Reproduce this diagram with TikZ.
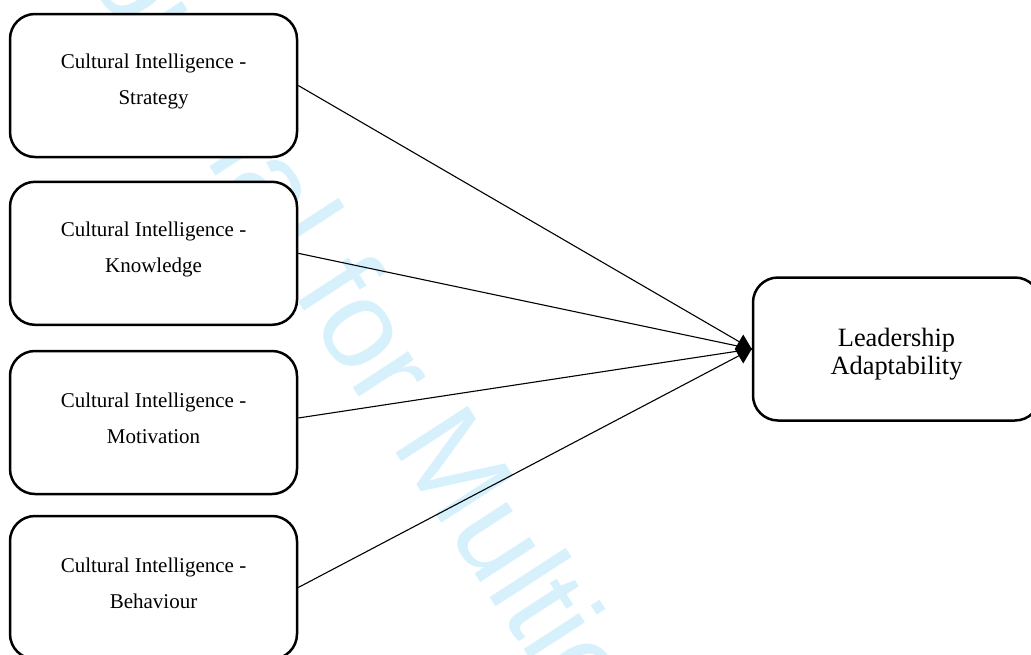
\documentclass[tikz,border=0pt]{standalone}
\usepackage{fontspec}
\setmainfont{Liberation Serif}
\newfontfamily\wmfont{Liberation Sans}
\definecolor{wmcol}{RGB}{214,240,252}
\tikzset{
  cbox/.style={draw, line width=2.5pt, rounded corners=25pt, fill=white,
    minimum width=287pt, minimum height=143pt, inner sep=0pt},
  clbl/.style={align=center, inner sep=0pt, font=\fontsize{21}{36.3}\selectfont},
  rlbl/.style={align=center, inner sep=0pt, font=\fontsize{26.4}{28}\selectfont},
  conn/.style={line width=1.1pt},
  wmark/.style={text=wmcol, rotate=-57, anchor=base west, inner sep=0pt,
    font=\wmfont\fontsize{125}{125}\selectfont},
}
\begin{document}
\begin{tikzpicture}[x=1pt,y=-1pt]
\useasboundingbox (0,0) rectangle (1031,654);
\clip (0,0) rectangle (1031,654);
% watermark
\node[wmark] (wm) at (50,-80) {Journal for Multicultural Education};
% boxes
\node[cbox] (s) at (153.5,85.5) {};
\node[cbox] (k) at (153.5,253.3) {};
\node[cbox] (m) at (153.5,422.5) {};
\node[cbox] (b) at (153.5,587.5) {};
\node[cbox] (la) at (896.5,349) {};
% labels
\node[clbl] (st) at ([yshift=4pt]s.center) {Cultural Intelligence -\\Strategy};
\node[clbl] (kt) at ([yshift=4pt]k.center) {Cultural Intelligence -\\Knowledge};
\node[clbl] (mt) at ([yshift=4pt]m.center) {Cultural Intelligence -\\Motivation};
\node[clbl] (bt) at ([yshift=4pt]b.center) {Cultural Intelligence -\\Behaviour};
\node[rlbl] (lat) at ([yshift=-5.3pt]la.center) {Leadership\\Adaptability};
% connectors
\draw[conn] (s.east) -- (la.west);
\draw[conn] (k.east) -- (la.west);
\draw[conn] ([yshift=4.5pt]m.east) -- (la.west);
\draw[conn] (b.east) -- (la.west);
% diamond head
\fill ([xshift=-17pt]la.west) -- ([xshift=-8.5pt,yshift=14.5pt]la.west)
  -- (la.west) -- ([xshift=-8.5pt,yshift=-14.5pt]la.west) -- cycle;
\end{tikzpicture}
\end{document}
